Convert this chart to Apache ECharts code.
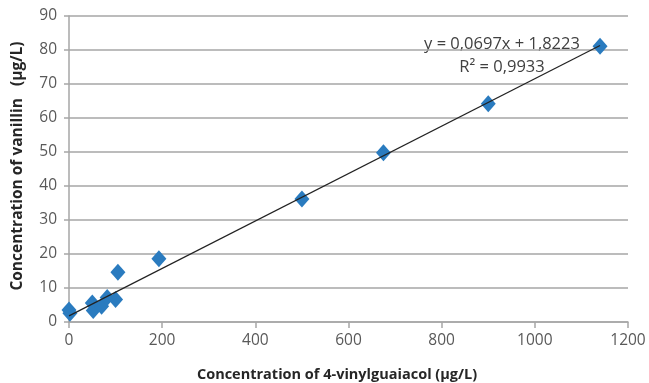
<!DOCTYPE html>
<html>
<head>
<meta charset="utf-8">
<script src="https://cdn.jsdelivr.net/npm/echarts@6/dist/echarts.min.js"></script>
<style>
  html, body { margin: 0; padding: 0; background: #fff; }
  #chart { width: 649px; height: 383px; }
</style>
</head>
<body>
<div id="chart"></div>
<script>
// 4-vinylguaiacol (µg/L) vs vanillin (µg/L)
const guaiacol = [0, 2, 50, 52, 70, 82, 100, 105, 193, 500, 675, 900, 1140];
const vanillin = [3.5, 2.6, 5.6, 3.4, 4.6, 7.2, 6.6, 14.6, 18.6, 36.2, 49.8, 64.2, 81.1];
// linear trend line endpoints
const trendX = [0, 1140];
const trendY = [1.8, 81.3];
const yTicks = [0, 10, 20, 30, 40, 50, 60, 70, 80, 90];
const xTicks = [0, 200, 400, 600, 800, 1000, 1200];
const equation = ['y = 0,0697x + 1,8223', 'R² = 0,9933'];

const font = 'Open Sans, Liberation Sans, sans-serif';
const chart = echarts.init(document.getElementById('chart'));

chart.setOption({
  animation: false,
  grid: { left: 69, right: 21, top: 16, bottom: 61 },
  xAxis: {
    type: 'value',
    min: xTicks[0],
    max: xTicks[xTicks.length - 1],
    interval: 200,
    axisLine: { lineStyle: { color: '#a6a6a6', width: 1.5 } },
    axisTick: { show: true, length: 6, lineStyle: { color: '#a6a6a6', width: 1.5 } },
    axisLabel: { color: '#595959', fontSize: 15.5, fontFamily: font, margin: 11, formatter: v => String(v) },
    splitLine: { show: false }
  },
  yAxis: {
    type: 'value',
    min: yTicks[0],
    max: yTicks[yTicks.length - 1],
    interval: 10,
    axisLine: { show: true, lineStyle: { color: '#a6a6a6', width: 1.5 } },
    axisTick: { show: true, length: 5, lineStyle: { color: '#a6a6a6', width: 1.5 } },
    axisLabel: { color: '#595959', fontSize: 15.5, fontFamily: font, margin: 12 },
    splitLine: { lineStyle: { color: '#a6a6a6', width: 1.5 } }
  },
  graphic: [
    {
      type: 'text',
      x: 337, y: 375,
      style: {
        text: 'Concentration of 4-vinylguaiacol (µg/L)',
        align: 'center', verticalAlign: 'middle',
        font: 'bold 14.5px ' + font, fill: '#262626'
      }
    },
    {
      type: 'text',
      rotation: Math.PI / 2,
      x: 18, y: 166,
      style: {
        text: 'Concentration of vanillin   (µg/L)',
        align: 'center', verticalAlign: 'middle',
        font: 'bold 15.5px ' + font, fill: '#262626'
      }
    },
    {
      type: 'text',
      x: 502, y: 44,
      style: {
        text: equation[0],
        align: 'center', verticalAlign: 'middle',
        font: '16.5px ' + font, fill: '#404040'
      }
    },
    {
      type: 'text',
      x: 502, y: 67,
      style: {
        text: equation[1],
        align: 'center', verticalAlign: 'middle',
        font: '16.5px ' + font, fill: '#404040'
      }
    }
  ],
  series: [
    {
      type: 'line',
      data: trendX.map((x, i) => [x, trendY[i]]),
      symbol: 'none',
      lineStyle: { color: '#222', width: 1.2 },
      z: 3
    },
    {
      type: 'scatter',
      data: guaiacol.map((x, i) => [x, vanillin[i]]),
      symbol: 'diamond',
      symbolSize: [15, 17],
      itemStyle: { color: '#2a7bbf', opacity: 1 },
      z: 2
    }
  ]
});
</script>
</body>
</html>
